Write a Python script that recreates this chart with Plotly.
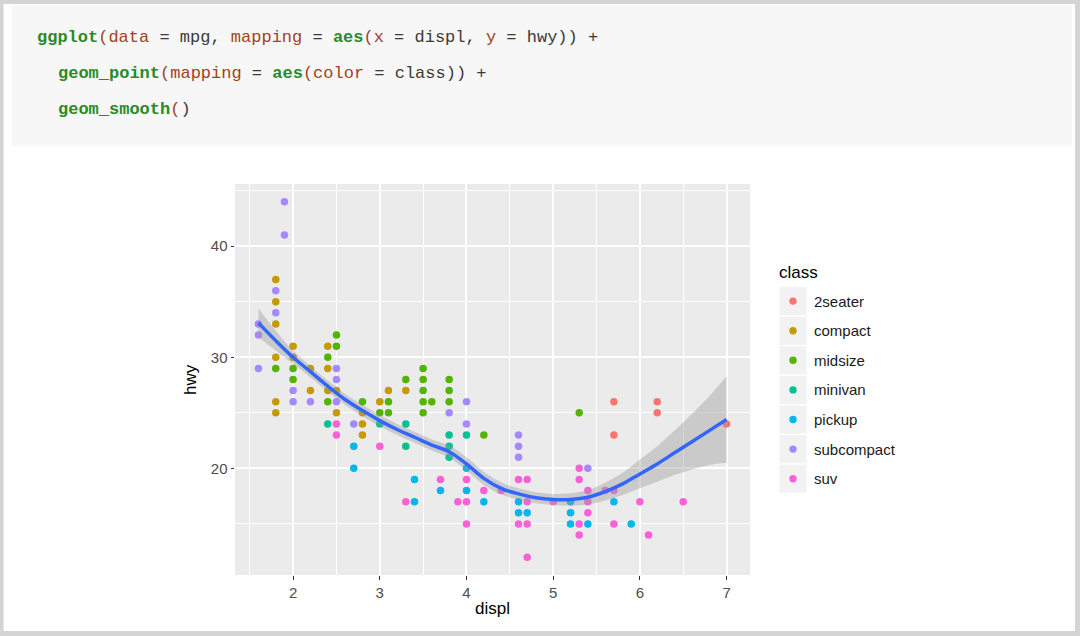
import plotly.graph_objects as go

# ---------------- data ----------------
classes = ["2seater", "compact", "midsize", "minivan", "pickup", "subcompact", "suv"]
class_colors = ["#F8766D", "#C49A00", "#53B400", "#00C094", "#00B6EB", "#A58AFF", "#FB61D7"]

twoseater_displ = [5.7, 5.7, 6.2, 6.2, 7.0]
twoseater_hwy = [26, 23, 26, 25, 24]

compact_displ = [1.8, 1.8, 1.8, 1.8, 1.8, 1.8, 2.0, 2.0, 2.2, 2.2, 2.4, 2.4, 2.4, 2.5, 2.5,
                 2.8, 2.8, 2.8, 3.0, 3.1, 3.3]
compact_hwy = [37, 35, 33, 30, 26, 25, 31, 30, 29, 27, 31, 29, 27, 27, 25,
               25, 24, 23, 26, 27, 27]

midsize_displ = [1.8, 2.0, 2.0, 2.4, 2.4, 2.5, 2.5, 2.8, 3.0, 3.1, 3.1, 3.3, 3.5, 3.5, 3.5,
                 3.5, 3.5, 3.6, 3.8, 3.8, 3.8, 4.2, 5.3]
midsize_hwy = [29, 29, 28, 30, 26, 32, 31, 26, 25, 26, 25, 28, 29, 28, 27,
               26, 25, 26, 28, 27, 26, 23, 25]

minivan_displ = [2.4, 3.0, 3.3, 3.3, 3.8, 3.8, 3.8, 4.0]
minivan_hwy = [24, 24, 24, 22, 23, 22, 21, 23]

pickup_displ = [2.7, 2.7, 3.4, 3.4, 3.7, 4.0, 4.0, 4.2, 4.6, 4.6, 4.7, 5.2, 5.2, 5.2, 5.4,
                5.7, 5.9]
pickup_hwy = [22, 20, 19, 17, 18, 20, 18, 17, 17, 16, 16, 17, 16, 15, 15,
              17, 15]

subcompact_displ = [1.6, 1.6, 1.6, 1.8, 1.8, 1.9, 1.9, 2.0, 2.0, 2.2, 2.5, 2.5, 2.5, 2.7,
                    3.8, 4.0, 4.0, 4.6, 4.6, 4.6, 5.4]
subcompact_hwy = [33, 32, 29, 36, 34, 44, 41, 27, 26, 26, 29, 28, 26, 24,
                  25, 26, 24, 23, 22, 21, 20]

suv_displ = [2.5, 2.5, 3.0, 3.3, 3.7, 3.9, 4.0, 4.0, 4.0, 4.2, 4.4, 4.6, 4.6, 4.7, 4.7,
             4.7, 4.7, 5.0, 5.3, 5.3, 5.3, 5.3, 5.4, 5.4, 5.4, 5.6, 5.7, 5.7, 6.0, 6.1, 6.5]
suv_hwy = [24, 23, 22, 17, 19, 17, 19, 17, 15, 18, 18, 19, 15, 19, 17,
           15, 12, 17, 20, 19, 15, 14, 18, 17, 16, 18, 18, 15, 17, 14, 17]

# loess smooth
smooth_displ = [1.6, 1.8, 2.0, 2.2, 2.4, 2.6, 2.8, 3.0, 3.2, 3.4, 3.6, 3.8, 4.0, 4.2,
                4.4, 4.6, 4.8, 5.0, 5.2, 5.4, 5.6, 5.8, 6.0, 6.2, 6.4, 6.6, 6.8, 7.0]
smooth_fit = [33.1, 31.5, 30.0, 28.7, 27.4, 26.2, 25.2, 24.3, 23.5, 22.8, 22.1, 21.5, 20.4, 19.1,
              18.2, 17.7, 17.35, 17.2, 17.2, 17.4, 17.9, 18.6, 19.5, 20.4, 21.4, 22.4, 23.4, 24.4]
smooth_upper = [34.4, 32.4, 30.6, 29.2, 27.9, 26.7, 25.7, 24.8, 24.0, 23.3, 22.6, 22.05, 21.0, 19.7,
                18.75, 18.2, 17.85, 17.7, 17.75, 18.05, 18.7, 19.6, 20.8, 22.0, 23.4, 24.9, 26.5, 28.3]
smooth_lower = [31.8, 30.6, 29.4, 28.2, 26.9, 25.7, 24.7, 23.8, 23.0, 22.3, 21.6, 20.95, 19.8, 18.5,
                17.65, 17.2, 16.85, 16.7, 16.65, 16.75, 17.1, 17.6, 18.2, 18.8, 19.4, 19.9, 20.3, 20.5]

x_ticks = [2, 3, 4, 5, 6, 7]
y_ticks = [20, 30, 40]

code_lines = [
    ('<span style="color:#2a8a2a"><b>ggplot</b></span><span style="color:#a3401e">(data</span>'
     '<span style="color:#3a3a3a"> = mpg, </span><span style="color:#a3401e">mapping</span>'
     '<span style="color:#3a3a3a"> = </span><span style="color:#2a8a2a"><b>aes</b></span>'
     '<span style="color:#a3401e">(x</span><span style="color:#3a3a3a"> = displ, </span>'
     '<span style="color:#a3401e">y</span><span style="color:#3a3a3a"> = hwy)) +</span>'),
    ('<span style="color:#2a8a2a"><b>geom_point</b></span><span style="color:#a3401e">(mapping</span>'
     '<span style="color:#3a3a3a"> = </span><span style="color:#2a8a2a"><b>aes</b></span>'
     '<span style="color:#a3401e">(color</span><span style="color:#3a3a3a"> = class)) +</span>'),
    ('<span style="color:#2a8a2a"><b>geom_smooth</b></span><span style="color:#a3401e">(</span>'
     '<span style="color:#3a3a3a">)</span>'),
]

# ---------------- figure ----------------
W, H = 1080, 636


def px(x):
    return x / W


def py(y):
    return 1 - y / H


series = [
    (twoseater_displ, twoseater_hwy),
    (compact_displ, compact_hwy),
    (midsize_displ, midsize_hwy),
    (minivan_displ, minivan_hwy),
    (pickup_displ, pickup_hwy),
    (subcompact_displ, subcompact_hwy),
    (suv_displ, suv_hwy),
]

fig = go.Figure()
for name, color, (xs, ys) in zip(classes, class_colors, series):
    fig.add_trace(go.Scatter(
        x=xs, y=ys, mode="markers", name=name,
        marker=dict(color=color, size=7.5, line=dict(width=0)),
        showlegend=False,
    ))

# confidence ribbon
fig.add_trace(go.Scatter(
    x=smooth_displ, y=smooth_lower, mode="lines", line=dict(width=0, shape="spline"),
    showlegend=False, hoverinfo="skip",
))
fig.add_trace(go.Scatter(
    x=smooth_displ, y=smooth_upper, mode="lines", line=dict(width=0, shape="spline"),
    fill="tonexty", fillcolor="rgba(153,153,153,0.4)", showlegend=False, hoverinfo="skip",
))
fig.add_trace(go.Scatter(
    x=smooth_displ, y=smooth_fit, mode="lines",
    line=dict(color="#3366FF", width=3.5, shape="spline"), showlegend=False,
))

shapes = []
# page frame
frame_col = "#D4D4D4"
for (x0, y0, x1, y1) in [(0, 0, 1080, 4), (0, 631, 1080, 636), (0, 0, 3.5, 636), (1075, 0, 1080, 636)]:
    shapes.append(dict(type="rect", xref="paper", yref="paper", x0=px(x0), x1=px(x1),
                       y0=py(y1), y1=py(y0), fillcolor=frame_col, line=dict(width=0),
                       layer="below"))
# code box
shapes.append(dict(type="rect", xref="paper", yref="paper", x0=px(12), x1=px(1072),
                   y0=py(146), y1=py(5), fillcolor="#F7F7F7", line=dict(width=0), layer="below"))

annotations = []
code_x = [35, 56, 56]
code_y = [37, 74, 110]
for txt, cx, cy in zip(code_lines, code_x, code_y):
    annotations.append(dict(text=txt, x=px(cx), y=py(cy), xref="paper", yref="paper",
                            xanchor="left", yanchor="middle", showarrow=False,
                            font=dict(family="Liberation Mono", size=17, color="#3a3a3a")))

# axis titles
annotations.append(dict(text="displ", x=px(492.5), y=py(608), xref="paper", yref="paper",
                        xanchor="center", yanchor="middle", showarrow=False,
                        font=dict(family="Liberation Sans", size=17, color="#000000")))
annotations.append(dict(text="hwy", x=px(190), y=py(380), xref="paper", yref="paper",
                        xanchor="center", yanchor="middle", showarrow=False, textangle=-90,
                        font=dict(family="Liberation Sans", size=17, color="#000000")))

# legend (ggplot style)
annotations.append(dict(text="class", x=px(777), y=py(272), xref="paper", yref="paper",
                        xanchor="left", yanchor="middle", showarrow=False,
                        font=dict(family="Liberation Sans", size=17, color="#000000")))
for i, (name, color) in enumerate(zip(classes, class_colors)):
    top = 287 + i * 29.6
    shapes.append(dict(type="rect", xref="paper", yref="paper", x0=px(779.5), x1=px(806.5),
                       y0=py(top + 28.2), y1=py(top), fillcolor="#F2F2F2", line=dict(width=0),
                       layer="below"))
    cyy = top + 14.1
    shapes.append(dict(type="circle", xref="paper", yref="paper", x0=px(793 - 3.7),
                       x1=px(793 + 3.7), y0=py(cyy + 3.7), y1=py(cyy - 3.7),
                       fillcolor=color, line=dict(width=0)))
    annotations.append(dict(text=name, x=px(811.5), y=py(cyy), xref="paper", yref="paper",
                            xanchor="left", yanchor="middle", showarrow=False,
                            font=dict(family="Liberation Sans", size=15, color="#1A1A1A")))

fig.update_layout(
    width=W, height=H, autosize=False,
    margin=dict(l=0, r=0, t=0, b=0),
    paper_bgcolor="#FFFFFF", plot_bgcolor="#EBEBEB",
    shapes=shapes, annotations=annotations, showlegend=False,
    font=dict(family="Liberation Sans", color="#4D4D4D"),
    xaxis=dict(
        domain=[px(235), px(750)], range=[1.33, 7.27],
        tickmode="array", tickvals=x_ticks, ticktext=[str(v) for v in x_ticks],
        ticks="outside", ticklen=3.5, tickwidth=1.1, tickcolor="#333333",
        tickfont=dict(family="Liberation Sans", size=15, color="#4D4D4D"),
        showgrid=True, gridcolor="#FFFFFF", gridwidth=1.6,
        minor=dict(tickmode="array", tickvals=[1.5, 2.5, 3.5, 4.5, 5.5, 6.5],
                   showgrid=True, gridcolor="#FFFFFF", gridwidth=0.8, ticks=""),
        zeroline=False, showline=False, fixedrange=True,
    ),
    yaxis=dict(
        domain=[py(575), py(184)], range=[10.4, 45.6],
        tickmode="array", tickvals=y_ticks, ticktext=[str(v) for v in y_ticks],
        ticks="outside", ticklen=3.5, tickwidth=1.1, tickcolor="#333333",
        tickfont=dict(family="Liberation Sans", size=15, color="#4D4D4D"),
        showgrid=True, gridcolor="#FFFFFF", gridwidth=1.6,
        minor=dict(tickmode="array", tickvals=[15, 25, 35, 45],
                   showgrid=True, gridcolor="#FFFFFF", gridwidth=0.8, ticks=""),
        zeroline=False, showline=False, fixedrange=True,
    ),
)

fig.write_html(
    "out.html",
    config={"displayModeBar": False},
    post_script="document.body.style.margin='0px';document.body.style.overflow='hidden';",
)
